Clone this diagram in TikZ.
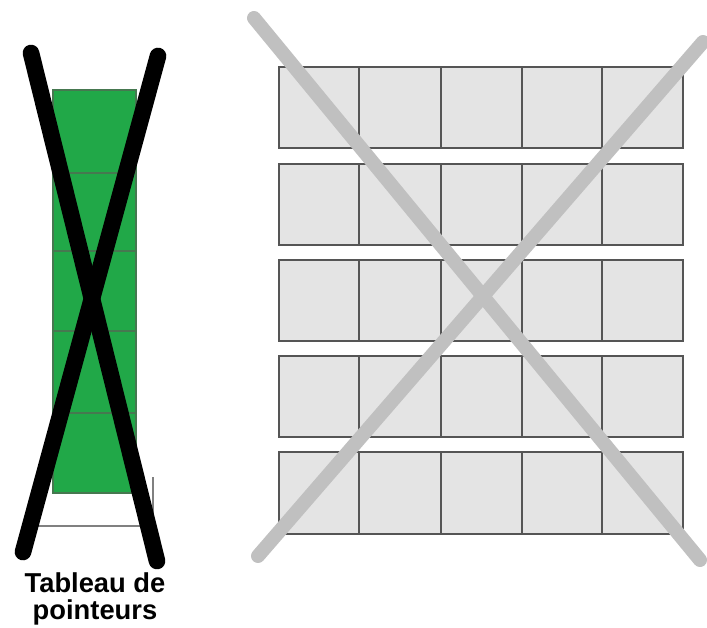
\documentclass[tikz,border=0pt]{standalone}
\usepackage{fontspec}
\setmainfont{Liberation Sans}
\definecolor{ptrgreen}{RGB}{33,168,72}
\definecolor{ptrline}{RGB}{70,120,80}
\definecolor{cellfill}{RGB}{228,228,228}
\definecolor{cellline}{RGB}{85,85,85}
\definecolor{crossgrey}{RGB}{192,192,192}
\tikzset{
  ptrcell/.style={fill=ptrgreen, draw=ptrline, line width=0.8pt},
  gridcell/.style={fill=cellfill, draw=cellline, line width=1pt},
  blackcross/.style={black, line width=12.5pt, line cap=round},
  greycross/.style={crossgrey, line width=10.5pt, line cap=round},
  labeltext/.style={font=\fontsize{20.5pt}{21pt}\selectfont\bfseries, inner sep=0pt, anchor=base},
  faintline/.style={draw=gray, line width=0.9pt}
}
\begin{document}
\begin{tikzpicture}[x=0.75pt,y=-0.75pt]
\useasboundingbox (0,0) rectangle (707,628);
% pointer array
\draw[faintline] (38,526) -- (153,526) -- (153,477);
\foreach \t/\b in {90/173,173/251,251/331,331/413,413/493}{
  \draw[ptrcell] (53,\t) rectangle (136,\b);
}
% grid
\foreach \t/\b in {67/148,164/245,260/341,356/437,452/534}{
  \foreach \l/\r in {279/359,359/441,441/522,522/602,602/683}{
    \draw[gridcell] (\l,\t) rectangle (\r,\b);
  }
}
% crosses
\coordinate (ga) at (254,18);
\coordinate (gb) at (700,560);
\coordinate (gc) at (703,42);
\coordinate (gd) at (258,556);
\draw[greycross] (ga) -- (gb);
\draw[greycross] (gc) -- (gd);
\coordinate (ba) at (31,53);
\coordinate (bb) at (157,561);
\coordinate (bc) at (158,56);
\coordinate (bd) at (23,552);
\draw[blackcross] (ba) -- (bb);
\draw[blackcross] (bc) -- (bd);
% label
\node[labeltext] (t1) at (95,592) {Tableau de};
\node[labeltext] (t2) at (95,619) {pointeurs};
\end{tikzpicture}
\end{document}
